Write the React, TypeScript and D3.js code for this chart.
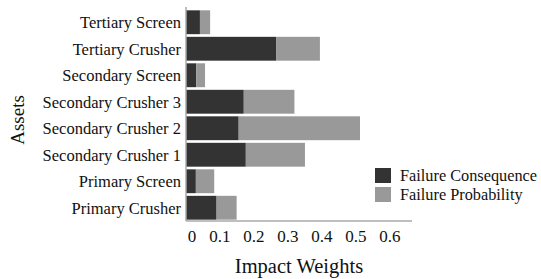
import React from 'react';
import * as d3 from 'd3';

const assets = [
  'Tertiary Screen',
  'Tertiary Crusher',
  'Secondary Screen',
  'Secondary Crusher 3',
  'Secondary Crusher 2',
  'Secondary Crusher 1',
  'Primary Screen',
  'Primary Crusher',
];
const consequence = [0.041, 0.265, 0.030, 0.170, 0.155, 0.176, 0.029, 0.090];
const probability = [0.030, 0.129, 0.026, 0.149, 0.357, 0.174, 0.054, 0.059];
const seriesNames = ['Failure Consequence', 'Failure Probability'];
const seriesColors = ['#333333', '#999999'];
const xTicks = [0, 0.1, 0.2, 0.3, 0.4, 0.5, 0.6];

const W = 541;
const H = 279;
const left = 186;
const right = 412;
const top = 9;
const bottom = 221;
const font = 'Liberation Serif, Times New Roman, serif';

export default function App() {
  const x = d3.scaleLinear().domain([0, 0.665]).range([left, right]);
  const y = d3.scaleBand().domain(assets).range([top, bottom]).paddingInner(0.1).paddingOuter(0.05);

  const rows = assets.map((a, i) => ({ a, c: consequence[i], p: probability[i] }));

  return (
    <svg width={W} height={H} style={{ position: 'absolute', left: 0, top: 0, background: '#fff', fontFamily: font }}>
      {rows.map(r => (
        <g key={r.a}>
          <rect x={x(0)} y={y(r.a)} width={x(r.c) - x(0)} height={y.bandwidth()} fill={seriesColors[0]} />
          <rect x={x(r.c)} y={y(r.a)} width={x(r.c + r.p) - x(r.c)} height={y.bandwidth()} fill={seriesColors[1]} />
          <text x={left - 5} y={(y(r.a) as number) + y.bandwidth() / 2} dy="0.35em" textAnchor="end" fontSize={16.5} fill="#111">
            {r.a}
          </text>
        </g>
      ))}
      <line x1={left} x2={left} y1={top - 2} y2={bottom} stroke="#aaa" strokeWidth={1.5} />
      <line x1={left} x2={right} y1={bottom} y2={bottom} stroke="#aaa" strokeWidth={1.5} />
      {xTicks.map(t => (
        <text key={t} x={t === 0 ? x(t) + 6 : x(t)} y={236} dy="0.35em" textAnchor="middle" fontSize={17} fill="#111">
          {t === 0 ? '0' : t.toFixed(1)}
        </text>
      ))}
      <text x={299} y={266} dy="0.35em" textAnchor="middle" fontSize={20.5} fill="#111">Impact Weights</text>
      <text transform="translate(17,120) rotate(-90)" dy="0.35em" textAnchor="middle" fontSize={19} fill="#111">Assets</text>
      {seriesNames.map((s, i) => (
        <g key={s} transform={`translate(375,${168 + i * 19})`}>
          <rect width={16} height={15} fill={seriesColors[i]} />
          <text x={25} y={7.5} dy="0.35em" fontSize={16.3} fill="#111">{s}</text>
        </g>
      ))}
    </svg>
  );
}
